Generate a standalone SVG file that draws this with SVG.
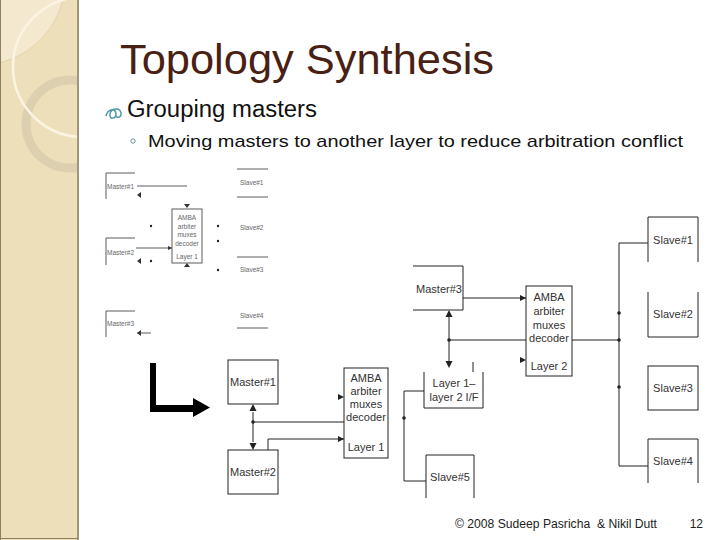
<svg xmlns="http://www.w3.org/2000/svg" width="720" height="540" viewBox="0 0 720 540">
<defs>
<style>
.t{font-family:"Liberation Sans",Arial,sans-serif}
.lb{font-family:"Liberation Sans",Arial,sans-serif;font-size:11px;fill:#333;text-anchor:middle}
.sm{font-family:"Liberation Sans",Arial,sans-serif;font-size:6.5px;fill:#666}
.smc{font-family:"Liberation Sans",Arial,sans-serif;font-size:6.5px;fill:#666;text-anchor:middle}
.ln{fill:none;stroke:#222;stroke-width:1}
.sl{fill:none;stroke:#333;stroke-width:0.8}
.box{fill:#fff;stroke:#222;stroke-width:1}
.dot{fill:#222}
</style>
<marker id="ah" viewBox="0 0 10 10" refX="10" refY="5" markerWidth="6" markerHeight="6" orient="auto" markerUnits="userSpaceOnUse">
<path d="M0,0 L10,5 L0,10 z" fill="#222"/>
</marker>
<marker id="ahs" viewBox="0 0 10 10" refX="10" refY="5" markerWidth="4" markerHeight="4" orient="auto" markerUnits="userSpaceOnUse">
<path d="M0,0 L10,5 L0,10 z" fill="#333"/>
</marker>
<clipPath id="pc"><rect x="0" y="0" width="78" height="540"/></clipPath>
</defs>
<rect width="720" height="540" fill="#fff"/>
<g id="panel">
<rect x="0" y="0" width="78" height="540" fill="#eedfbb"/>
<g clip-path="url(#pc)">
<circle cx="-20" cy="-20" r="85" fill="#f4e8cf" stroke="#d8c8a2" stroke-width="0.6"/>
<circle cx="70" cy="124" r="44" fill="none" stroke="#ddd0b0" stroke-width="9"/>
<circle cx="83" cy="67" r="70" fill="none" stroke="#fbf4e2" stroke-width="2.5"/>
</g>
<line x1="78" y1="0" x2="78" y2="540" stroke="#a3957a" stroke-width="2"/>
<line x1="0.5" y1="0" x2="0.5" y2="540" stroke="#8d7f64" stroke-width="1"/>
<line x1="0" y1="538.5" x2="78" y2="538.5" stroke="#8d7f64" stroke-width="1"/>
</g>
<g id="title">
<text class="t" x="120" y="74" font-size="43" fill="#4a1f14" textLength="374" lengthAdjust="spacingAndGlyphs">Topology Synthesis</text>
</g>
<g id="bullets">
<path d="M106,116 c2,-8 10,-8 10,-2 c0,5 -7,6 -6,0 c1,-6 10,-7 11,-1 c1,5 -6,6 -5,1" fill="none" stroke="#4f9aa8" stroke-width="1.5"/>
<text class="t" x="127" y="117" font-size="23" fill="#111" textLength="190" lengthAdjust="spacingAndGlyphs">Grouping masters</text>
<circle cx="133" cy="141" r="2.2" fill="none" stroke="#6f8fa8" stroke-width="1"/>
<text class="t" x="148" y="147" font-size="17" fill="#111" textLength="535" lengthAdjust="spacingAndGlyphs">Moving masters to another layer to reduce arbitration conflict</text>
</g>
<g id="small-diagram">
<path class="sl" d="M106,199 V173 H135"/>
<text class="sm" x="107" y="189">Master#1</text>
<path class="sl" d="M137,186 H187"/>
<path d="M141,192 L137,195 L141,198 z" fill="#333"/>
<path class="sl" d="M106,265 V238 H135"/>
<text class="sm" x="107" y="255">Master#2</text>
<path class="sl" d="M136,248 H172" marker-end="url(#ahs)"/>
<path d="M141,258 L137,261 L141,264 z" fill="#333"/>
<path class="sl" d="M106,337 V311 H135"/>
<text class="sm" x="107" y="326">Master#3</text>
<path class="sl" d="M137,333 H151"/>
<path d="M141,330 L137,333 L141,336 z" fill="#333"/>
<rect x="172" y="209" width="30" height="54" class="sl"/>
<path d="M184,204 L190,204 L187,208 z" fill="#333"/>
<path d="M184,267 L190,267 L187,263 z" fill="#333"/>
<text class="smc" x="187" y="220">AMBA</text>
<text class="smc" x="187" y="229">arbiter</text>
<text class="smc" x="187" y="237">muxes</text>
<text class="smc" x="187" y="246">decoder</text>
<text class="smc" x="187" y="259">Layer 1</text>
<circle class="dot" cx="151" cy="226" r="1.2"/>
<circle class="dot" cx="151" cy="261" r="1.2"/>
<circle class="dot" cx="218" cy="226" r="1.2"/>
<circle class="dot" cx="218" cy="241" r="1.2"/>
<circle class="dot" cx="218" cy="270" r="1.2"/>
<path class="sl" d="M237,169 H268 M237,197 H268 M237,257 H268 M237,328 H268"/>
<text class="sm" x="240" y="185">Slave#1</text>
<text class="sm" x="240" y="230">Slave#2</text>
<text class="sm" x="240" y="272">Slave#3</text>
<text class="sm" x="240" y="318">Slave#4</text>
</g>
<g id="big-arrow">
<path d="M150,363 H156 V405 H193 V398 L210,407.5 L193,417 V412 H150 z" fill="#000"/>
</g>
<g id="connectors">
<path class="ln" d="M253,412 V442" />
<path d="M249.5,411 L256.5,411 L253,404 z" fill="#222"/>
<path d="M249.5,443 L256.5,443 L253,450 z" fill="#222"/>
<path class="ln" d="M253,422 H344"/>
<path class="ln" d="M268,450 V439 H344" marker-end="url(#ah)"/>
<path d="M338,394 L344,397 L338,400 z" fill="#222"/>
<path class="ln" d="M424,391 H404 V481 H426"/>
<path class="ln" d="M463,298 H526" marker-end="url(#ah)"/>
<path class="ln" d="M449,317 V361"/>
<path d="M445.5,317 L452.5,317 L449,310 z" fill="#222"/>
<path d="M445.5,361 L452.5,361 L449,368 z" fill="#222"/>
<path class="ln" d="M449,340 H526"/>
<path d="M520,357 L526,360 L520,363 z" fill="#222"/>
<path class="ln" d="M473,362 V372"/>
<path class="ln" d="M572,340 H619"/>
<path class="ln" d="M648,243 H619 V466 H648"/>
<circle class="dot" cx="253" cy="422" r="1.8"/>
<circle class="dot" cx="404" cy="418" r="1.8"/>
<circle class="dot" cx="449" cy="340" r="1.8"/>
<circle class="dot" cx="619" cy="313" r="1.8"/>
<circle class="dot" cx="619" cy="340" r="1.8"/>
<circle class="dot" cx="619" cy="387" r="1.8"/>
</g>
<g id="master1">
<rect class="box" x="228" y="360" width="50" height="44"/>
<text class="lb" x="253" y="386">Master#1</text>
</g>
<g id="master2">
<rect class="box" x="228" y="450" width="50" height="44"/>
<text class="lb" x="253" y="476">Master#2</text>
</g>
<g id="amba-l1">
<rect class="box" x="344" y="368" width="44" height="90"/>
<text class="lb" x="366" y="382">AMBA</text>
<text class="lb" x="366" y="395">arbiter</text>
<text class="lb" x="366" y="408">muxes</text>
<text class="lb" x="366" y="421">decoder</text>
<text class="lb" x="366" y="451">Layer 1</text>
</g>
<g id="master3">
<path class="ln" d="M413,266 H463 V310 H413"/>
<text class="lb" x="439" y="293">Master#3</text>
</g>
<g id="amba-l2">
<rect class="box" x="526" y="286" width="46" height="90"/>
<text class="lb" x="549" y="301">AMBA</text>
<text class="lb" x="549" y="315">arbiter</text>
<text class="lb" x="549" y="329">muxes</text>
<text class="lb" x="549" y="342">decoder</text>
<text class="lb" x="549" y="370">Layer 2</text>
</g>
<g id="if-box">
<path class="ln" d="M424,372 V408 H483 V372"/>
<text class="lb" x="454" y="387">Layer 1–</text>
<text class="lb" x="454" y="401">layer 2 I/F</text>
</g>
<g id="slave1">
<path class="ln" d="M648,262 V217 H698 V262"/>
<text class="lb" x="673" y="244">Slave#1</text>
</g>
<g id="slave2">
<path class="ln" d="M648,292 V337 H698 V292"/>
<text class="lb" x="673" y="318">Slave#2</text>
</g>
<g id="slave3">
<rect class="box" x="648" y="366" width="50" height="44"/>
<text class="lb" x="673" y="392">Slave#3</text>
</g>
<g id="slave4">
<path class="ln" d="M648,483 V439 H698 V483"/>
<text class="lb" x="673" y="465">Slave#4</text>
</g>
<g id="slave5">
<path class="ln" d="M426,498 V455 H474 V498"/>
<text class="lb" x="450" y="481">Slave#5</text>
</g>
<g id="footer">
<text class="t" x="455" y="528" font-size="12" fill="#222" xml:space="preserve" textLength="202" lengthAdjust="spacingAndGlyphs">© 2008 Sudeep Pasricha  &amp; Nikil Dutt</text>
<text class="t" x="703" y="528" font-size="12" fill="#222" text-anchor="end">12</text>
</g>
</svg>
